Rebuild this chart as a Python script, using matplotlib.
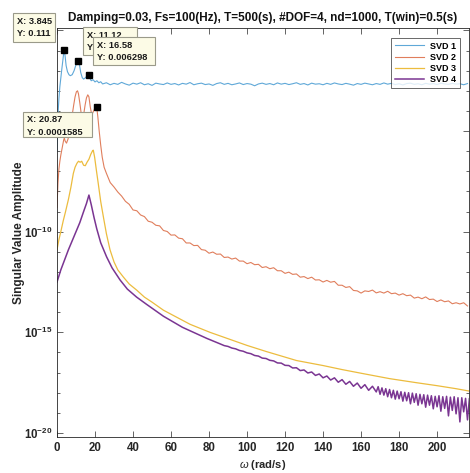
import numpy as np
import matplotlib
matplotlib.use("Agg")
import matplotlib.pyplot as plt
from matplotlib.patches import Rectangle
from matplotlib.ticker import NullFormatter, NullLocator

# ---- data (omega in rad/s, values as log10 amplitude) ----
SVD1_W = [0, 0.5, 1, 1.5, 2, 2.5, 3, 3.5, 3.845, 4.3, 4.8, 5.5, 6.3, 7, 8, 9, 9.8,
          10.5, 11.12, 11.8, 12.5, 13.3, 14, 15, 15.8, 16.58, 17.3, 18, 19, 20, 21,
          22, 23, 24] + list(range(26, 217, 2))
SVD1_LOG = [-6.0, -4.2, -3.4, -2.8, -2.35, -1.95, -1.55, -1.15, -0.955, -1.3, -1.75,
            -2.05, -2.2, -2.25, -2.2, -2.0, -1.75, -1.55, -1.5, -1.7, -2.1, -2.35,
            -2.42, -2.35, -2.25, -2.2, -2.38, -2.5, -2.45, -2.56, -2.5, -2.6, -2.55,
            -2.66,
            -2.60, -2.70, -2.63, -2.68, -2.58, -2.66, -2.72, -2.62, -2.67, -2.60,
            -2.70, -2.65, -2.73, -2.62, -2.66, -2.69, -2.61, -2.68, -2.64, -2.71,
            -2.63, -2.67, -2.59, -2.70, -2.65, -2.62, -2.69, -2.66, -2.73, -2.64,
            -2.60, -2.68, -2.63, -2.70, -2.66, -2.61, -2.69, -2.64, -2.67, -2.75,
            -2.66, -2.62, -2.68, -2.64, -2.70, -2.61, -2.67, -2.63, -2.69, -2.65,
            -2.60, -2.68, -2.64, -2.71, -2.62, -2.67, -2.65, -2.70, -2.63, -2.68,
            -2.61, -2.66, -2.69, -2.63, -2.67, -2.72, -2.64, -2.68, -2.62, -2.66,
            -2.70, -2.64, -2.68, -2.61, -2.67, -2.63, -2.69, -2.65, -2.71, -2.64,
            -2.62, -2.68, -2.65, -2.70, -2.63, -2.67, -2.64, -2.69, -2.62, -2.66,
            -2.68, -2.63, -2.67, -2.65, -2.70, -2.64]

SVD2_W = [0, 0.5, 1, 1.5, 2, 2.5, 3, 3.5, 3.845, 4.3, 5, 5.8, 6.5, 7.3, 8, 8.8, 9.5,
          10.2, 10.8, 11.3, 12, 12.7, 13.4, 14, 14.8, 15.5, 16.2, 16.8, 17.5, 18.2,
          18.8, 19.5, 20.2, 20.87, 21.5, 22.2, 23, 23.8, 24.8] + list(range(26, 217, 2))
SVD2_LOG = [-8.8, -7.6, -6.9, -6.5, -6.2, -5.95, -5.7, -5.45, -5.35, -5.5, -5.6, -5.4,
            -5.1, -4.7, -4.2, -3.7, -3.3, -3.05, -3.0, -3.15, -3.6, -4.1, -4.35, -4.2,
            -3.7, -3.35, -3.2, -3.3, -3.8, -4.15, -4.1, -3.95, -3.85, -3.8, -4.3, -5.0,
            -5.7, -6.3, -6.8,
            -7.10, -7.56, -7.78, -8.03, -8.23, -8.49, -8.64, -8.92, -8.96, -9.17,
            -9.25, -9.48, -9.53, -9.68, -9.71, -9.94, -9.99, -10.17, -10.16, -10.32,
            -10.35, -10.56, -10.56, -10.69, -10.68, -10.89, -10.92, -11.07, -11.01, -11.12,
            -11.11, -11.28, -11.26, -11.36, -11.31, -11.46, -11.46, -11.59, -11.53, -11.64,
            -11.62, -11.78, -11.74, -11.84, -11.79, -11.94, -11.94, -12.07, -12.01, -12.12,
            -12.10, -12.26, -12.23, -12.33, -12.26, -12.40, -12.39, -12.50, -12.42, -12.51,
            -12.47, -12.66, -12.66, -12.77, -12.73, -12.92, -12.94, -13.05, -12.94, -12.97,
            -12.90, -13.04, -12.98, -13.05, -12.96, -13.08, -13.05, -13.15, -13.08, -13.18,
            -13.15, -13.30, -13.25, -13.33, -13.24, -13.37, -13.35, -13.47, -13.39, -13.48,
            -13.44, -13.58, -13.53, -13.59, -13.53, -13.69]

SVD3_W = [0, 1, 2, 3.3, 4.5, 6, 7.3, 8.6, 9.5, 10.5, 11.3, 12.2, 13, 14, 14.9, 15.8,
          16.8, 17.8, 18.7, 19.1, 19.8, 20.8, 21.7, 23, 24.4, 26, 27.9, 30, 32, 34.9,
          38, 41.9, 46, 50, 56, 62, 70, 80.5, 91, 100, 110, 126, 140, 150, 161, 175,
          189, 200, 210, 217]
SVD3_LOG = [-10.9, -10.4, -10.0, -9.45, -9.0, -8.4, -7.8, -7.1, -6.8, -6.6, -6.5,
            -6.55, -6.5, -6.7, -6.72, -6.55, -6.4, -6.15, -5.98, -5.95, -6.3, -7.0,
            -7.6, -8.5, -9.26, -10.1, -10.9, -11.5, -11.9, -12.25, -12.6, -12.9, -13.25,
            -13.5, -13.9, -14.2, -14.6, -15.0, -15.35, -15.65, -15.95, -16.4, -16.65,
            -16.85, -17.05, -17.3, -17.5, -17.65, -17.8, -17.92]

SVD4_W = [0, 2, 4, 6, 8, 10, 12, 14, 15.5, 16.8, 18, 19.5, 20.9, 23, 26.1, 29, 33.2,
          37, 41.9, 47, 56, 66, 78.8] + list(range(86, 169, 2)) + list(range(169, 218))
SVD4_LOG = [-12.5, -11.9, -11.4, -10.9, -10.45, -10.0, -9.55, -9.0, -8.6, -8.18,
            -8.65, -9.3, -9.85, -10.55, -11.25, -11.8, -12.4, -12.85, -13.25, -13.6,
            -14.2, -14.75, -15.3,
            -15.58, -15.66, -15.70, -15.78, -15.82, -15.90, -15.94, -16.02, -16.06, -16.15,
            -16.18, -16.28, -16.30, -16.39, -16.42, -16.52, -16.53, -16.64, -16.65, -16.77,
            -16.76, -16.90, -16.87, -17.02, -16.97, -17.14, -17.07, -17.26, -17.17, -17.37,
            -17.26, -17.48, -17.35, -17.58, -17.44, -17.68, -17.52, -17.78, -17.60, -17.88,
            -17.68, -17.96,
            -17.70, -18.08, -17.76, -18.12, -17.80, -18.20, -17.84, -18.25, -17.88, -18.32,
            -17.92, -18.30, -17.95, -18.42, -17.98, -18.40, -18.00, -18.55, -18.02, -18.48,
            -18.05, -18.62, -18.08, -18.55, -18.10, -18.72, -18.12, -18.62, -18.15, -18.80,
            -18.18, -18.70, -18.15, -18.92, -18.20, -18.78, -18.18, -19.15, -18.22, -18.88,
            -18.20, -19.05, -18.25, -19.45, -18.25, -18.95, -18.28, -19.35, -18.30]

LABELS = ["SVD 1", "SVD 2", "SVD 3", "SVD 4"]
COLORS = ["#5fa8d8", "#e07e5c", "#ecbc3e", "#7a3592"]

# data tips: omega, amplitude, text
TIP_W = [3.845, 11.12, 16.58, 20.87]
TIP_AMP = [0.111, 0.03165, 0.006298, 0.0001585]
TIP_TEXT = [("X: 3.845", "Y: 0.111"), ("X: 11.12", "Y: 0.03165"),
            ("X: 16.58", "Y: 0.006298"), ("X: 20.87", "Y: 0.0001585")]

TITLE = "Damping=0.03, Fs=100(Hz), T=500(s), #DOF=4, nd=1000, T(win)=0.5(s)"

W, H = 470, 473
plt.rcParams.update({
    "font.family": ["Liberation Sans", "DejaVu Sans"],
    "mathtext.fontset": "custom",
    "mathtext.rm": "Liberation Sans",
    "mathtext.it": "Liberation Sans:italic",
    "mathtext.bf": "Liberation Sans:bold",
})

fig = plt.figure(figsize=(W / 100, H / 100), dpi=100)
ax = fig.add_axes([57 / W, 36 / H, 412 / W, 409 / H])

series = [(SVD1_W, SVD1_LOG), (SVD2_W, SVD2_LOG), (SVD3_W, SVD3_LOG), (SVD4_W, SVD4_LOG)]
lws = [0.8, 0.8, 0.9, 1.1]
for (w, lg), lab, col, lw in zip(series, LABELS, COLORS, lws):
    ax.semilogy(w, 10.0 ** np.array(lg), color=col, lw=lw, label=lab)

ax.plot(TIP_W, TIP_AMP, "s", color="black", ms=4.5, zorder=6, clip_on=False)

ax.set_xlim(0, 216.8)
ax.set_ylim(10 ** -20.2, 10 ** 0.12)
ax.set_xticks(range(0, 201, 20))
ax.set_yticks([1e-20, 1e-15, 1e-10, 1e-5, 1e0])
# the 1e-5 and 1e0 labels sit under the data tips in the original
ax.set_yticklabels([r"$\mathbf{10^{-20}}$", r"$\mathbf{10^{-15}}$",
                    r"$\mathbf{10^{-10}}$", "", ""])
ax.set_yticks([10.0 ** k for k in range(-20, 1)], minor=True)
ax.yaxis.set_minor_formatter(NullFormatter())
ax.xaxis.set_minor_locator(NullLocator())
ax.tick_params(which="both", direction="in", top=True, right=True,
               colors="#262626", width=0.5, labelsize=8.3)
ax.tick_params(which="major", length=4)
ax.tick_params(which="minor", length=2.5)
for lbl in ax.get_xticklabels():
    lbl.set_fontweight("bold")
for sp in ax.spines.values():
    sp.set_color("#262626")
    sp.set_linewidth(0.6)

ax.set_title(TITLE, fontsize=8.5, fontweight="bold", color="#111111", pad=5)
ax.set_xlabel(r"$\omega$ (rad/s)", fontsize=8, fontweight="bold", color="#262626",
              labelpad=3)
ax.set_ylabel("Singular Value Amplitude", fontsize=8.5, fontweight="bold",
              color="#262626", labelpad=-1)

leg = ax.legend(loc="upper right", bbox_to_anchor=(460 / W, 1 - 38 / H),
                bbox_transform=fig.transFigure, frameon=True,
                fancybox=False, borderaxespad=0, handlelength=3.2,
                handletextpad=0.7, labelspacing=0.25, borderpad=0.4,
                prop={"weight": "bold", "size": 6.5})
leg.get_frame().set_edgecolor("#262626")
leg.get_frame().set_linewidth(0.6)

# data tip boxes, placed in figure pixels (left, top, right, bottom); later boxes on top
boxes = [(13, 13, 55, 42), (83, 27, 137, 55), (93, 37, 155, 65), (23, 112, 92, 137)]
for i, ((x0, y0, x1, y1), (t1, t2)) in enumerate(zip(boxes, TIP_TEXT)):
    z = 10 + 2 * i
    fig.add_artist(Rectangle((x0 / W, 1 - y1 / H), (x1 - x0) / W, (y1 - y0) / H,
                             transform=fig.transFigure, facecolor="#fcfbe6",
                             edgecolor="#9a9a8a", linewidth=0.8, zorder=z))
    for txt, dy in [(t1, 8), (t2, 20)]:
        fig.text((x0 + 4) / W, 1 - (y0 + dy) / H, txt, fontsize=6.7,
                 fontweight="bold", color="#1a1a1a", va="center", ha="left",
                 zorder=z + 1)

fig.savefig("out.png", dpi=100)
